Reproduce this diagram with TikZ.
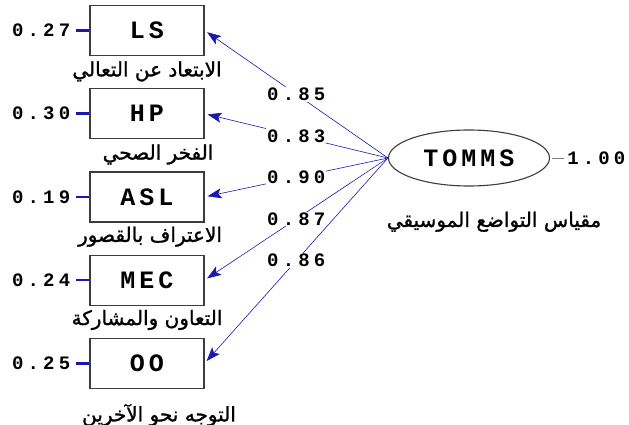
\documentclass[tikz,border=0pt]{standalone}
\usepackage{fontspec}
\usepackage{tikz}
\usetikzlibrary{positioning, arrows.meta, shapes.geometric}
\TeXXeTstate=1
\newfontfamily\arabicfont[Script=Arabic, FakeBold=1.2]{DejaVu Sans}
\newfontfamily\valfont[LetterSpace=22]{Liberation Mono}
\newfontfamily\boxfont[LetterSpace=16]{Liberation Mono}
\definecolor{loadblue}{RGB}{25,25,175}
\definecolor{boxgray}{RGB}{60,60,60}

\begin{document}
\begin{tikzpicture}[x=1pt,y=-1pt]
	\tikzset{
	>={Stealth[length=14pt,width=10pt,inset=3pt]}, % arrow heads of the loadings
	node distance=32pt, % gap between two indicator boxes
	indicator/.style={draw=boxgray, line width=1.2pt, minimum width=114pt, minimum height=50pt, font=\boxfont\bfseries\fontsize{25}{25}\selectfont},
	latent/.style={ellipse, draw=boxgray, line width=1.1pt, minimum width=161pt, minimum height=56pt, font=\boxfont\bfseries\fontsize{25}{25}\selectfont},
	value/.style={inner sep=1pt, font=\valfont\bfseries\fontsize{19}{19}\selectfont},
	arname/.style={inner sep=1pt, font=\arabicfont\fontsize{20}{24}\selectfont},
	loading/.style={->, draw=loadblue, line width=0.6pt, shorten >=3pt},
	errline/.style={draw=loadblue, line width=2.6pt, shorten <=5pt}
	}
	\useasboundingbox (0,0) rectangle (629,425);
	\node[indicator] (ls) at (147,30.5) {LS};
	\node[indicator, below=of ls] (hp) {HP};
	\node[indicator, below=of hp] (asl) {ASL};
	\node[indicator, below=of asl] (mec) {MEC};
	\node[indicator, below=of mec] (oo) {OO};
	\node[latent] (tomms) at (469,158) {TOMMS};

	% error variances
	\node[value, left=18pt of ls] (e1) {0.27};
	\node[value, left=18pt of hp] (e2) {0.30};
	\node[value, left=18pt of asl] (e3) {0.19};
	\node[value, left=18pt of mec] (e4) {0.24};
	\node[value, left=18pt of oo] (e5) {0.25};
	\node[value, right=16pt of tomms] (r1) {1.00};
	\foreach \e/\b in {e1/ls, e2/hp, e3/asl, e4/mec, e5/oo}
	  \draw[errline] (\e.east) -- (\b.west);
	\draw[gray, line width=0.6pt, shorten <=2pt, shorten >=2pt] (tomms.east) -- (r1.west);

	% arabic names
	\node[arname, below=4pt of ls] (lsname) {\beginR الابتعاد عن التعالي\endR};
	\node[arname, below=4pt of hp, xshift=11pt] (hpname) {\beginR الفخر الصحي\endR};
	\node[arname, below=3pt of asl, xshift=3pt] (aslname) {\beginR الاعتراف بالقصور\endR};
	\node[arname, below=3pt of mec] (mecname) {\beginR التعاون والمشاركة\endR};
	\node[arname, below=14pt of oo, xshift=12pt] (ooname) {\beginR التوجه نحو الآخرين\endR};
	\node[arname, below=24pt of tomms, xshift=25pt] (tommsname) {\beginR مقياس التواضع الموسيقي\endR};

	% loadings
	\path[every edge/.style={loading, draw}]
	(tomms.west) edge node[value, fill=white]{0.85} (ls.east)
	(tomms.west) edge node[value, fill=white]{0.83} (hp.east)
	(tomms.west) edge node[value, fill=white]{0.90} (asl.east)
	(tomms.west) edge node[value, fill=white]{0.87} (mec.east)
	(tomms.west) edge node[value, fill=white]{0.86} (oo.east)
	;
\end{tikzpicture}
\end{document}
